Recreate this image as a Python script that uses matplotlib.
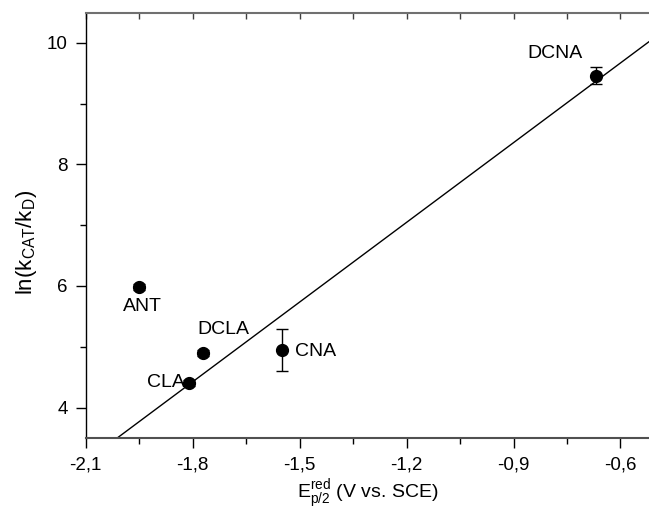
import numpy as np
import matplotlib.pyplot as plt
from matplotlib.ticker import MultipleLocator, FuncFormatter

plt.rcParams['font.family'] = ['Liberation Sans', 'DejaVu Sans']

# data
names = ["ANT", "DCLA", "CLA", "CNA", "DCNA"]
e_red = [-1.95, -1.77, -1.81, -1.55, -0.67]
ln_k = [5.98, 4.90, 4.40, 4.95, 9.46]
ln_k_err = [0.05, 0.05, 0.05, 0.35, 0.14]

# linear fit drawn in the figure
FIT_SLOPE = 4.37
FIT_INTERCEPT = 12.29

# label positions (data coords)
label_x = [-1.94, -1.715, -1.875, -1.514, -0.785]
label_y = [5.67, 5.28, 4.42, 4.92, 9.83]
label_ha = ["center", "center", "center", "left", "center"]

fig = plt.figure(figsize=(6.49, 5.11), dpi=100)
ax = fig.add_axes([0.132, 0.1429, 0.868, 0.8317])

xlim = (-2.1, -0.52)
ylim = (3.5, 10.49)

xs = np.array(xlim)
ax.plot(xs, FIT_SLOPE * xs + FIT_INTERCEPT, color="black", lw=1.0)

ax.errorbar(e_red, ln_k, yerr=ln_k_err, fmt="o", color="black", ms=8.5,
            capsize=4, elinewidth=1.0, capthick=1.0)

for n, x, y, ha in zip(names, label_x, label_y, label_ha):
    ax.text(x, y, n, ha=ha, va="center", fontsize=14)

ax.set_xlim(*xlim)
ax.set_ylim(*ylim)

ax.xaxis.set_major_locator(MultipleLocator(0.3))
ax.xaxis.set_minor_locator(MultipleLocator(0.15))
ax.yaxis.set_major_locator(MultipleLocator(2))
ax.yaxis.set_minor_locator(MultipleLocator(1))

ax.xaxis.set_major_formatter(FuncFormatter(lambda v, p: f"{v:.1f}".replace(".", ",")))
ax.yaxis.set_major_formatter(FuncFormatter(lambda v, p: f"{v:.0f}"))

ax.spines["right"].set_visible(False)
ax.spines["top"].set_color("#707070")
ax.spines["top"].set_linewidth(1.5)
ax.spines["bottom"].set_color("#505050")
ax.spines["bottom"].set_linewidth(1.5)
ax.spines["left"].set_linewidth(1.0)

ax.tick_params(axis="both", which="major", direction="out", length=7, width=1.0,
               labelsize=13.5, pad=6)
ax.tick_params(axis="both", which="minor", direction="out", length=4, width=1.0)
ax.tick_params(axis="x", which="both", top=False)
ax.tick_params(axis="y", which="both", right=False)

# top ticks pointing inwards, no labels
top = ax.secondary_xaxis("top")
top.xaxis.set_major_locator(MultipleLocator(0.15))
top.tick_params(direction="in", length=4, width=1.0, color="#404040", labeltop=False)
top.spines["top"].set_visible(False)

ax.set_xlabel(r"E$_{\mathregular{p/2}}^{\mathregular{red}}$ (V vs. SCE)", fontsize=14, labelpad=3)
ax.set_ylabel(r"ln(k$_{\mathregular{CAT}}$/k$_{\mathregular{D}}$)", fontsize=16)
ax.yaxis.set_label_coords(-0.083, 0.461)

fig.savefig("out.png", dpi=100)
